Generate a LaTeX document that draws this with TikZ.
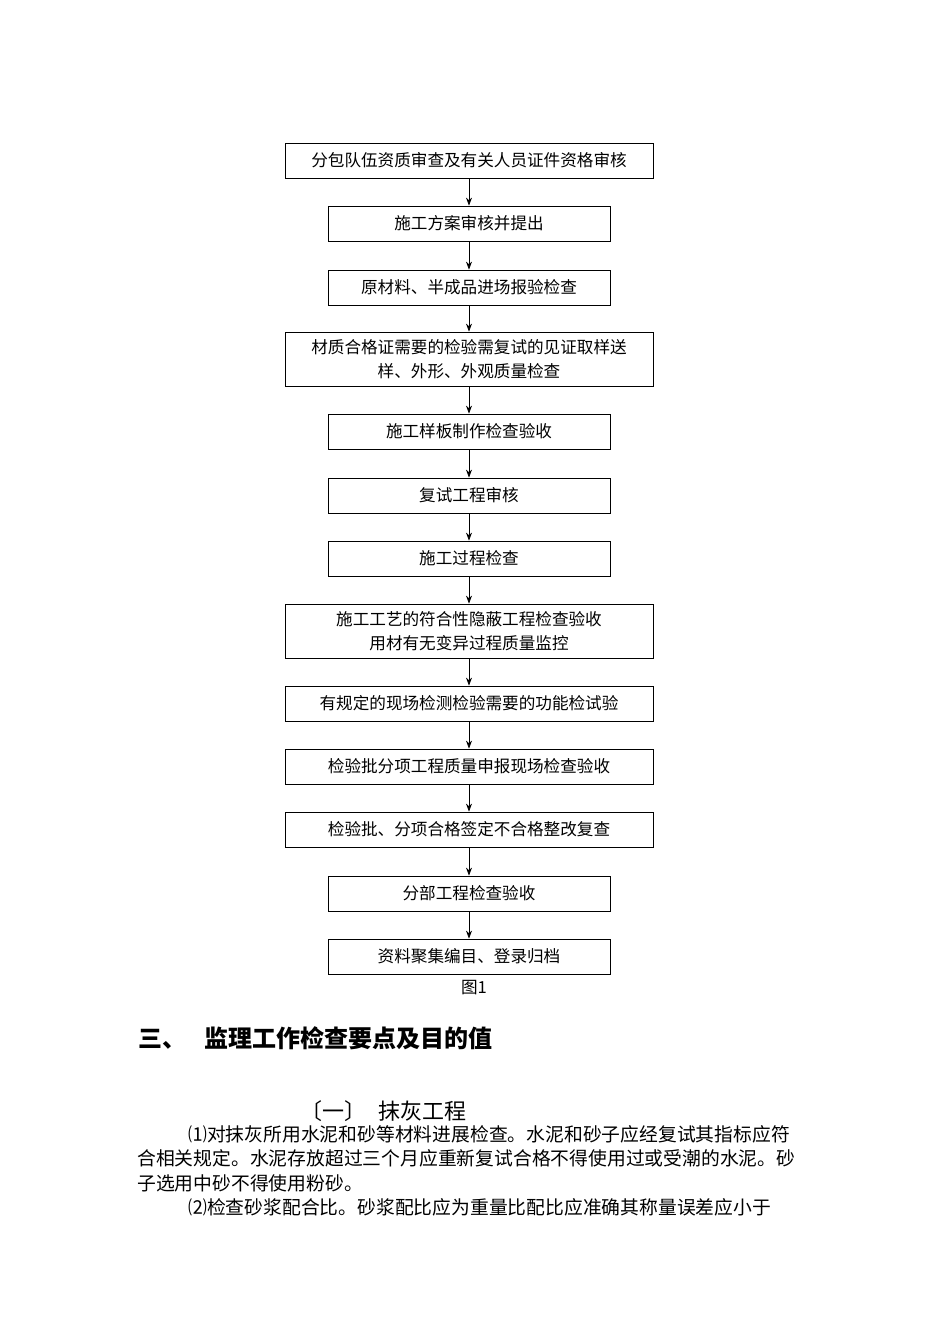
\documentclass[tikz,border=0pt]{standalone}
\usepackage{fontspec}
\setmainfont{Liberation Serif}
\newfontfamily\cjk{Noto Sans CJK SC}
\usetikzlibrary{arrows.meta}
\begin{document}
\begin{tikzpicture}[x=1pt,y=-1pt,
  bx/.style={draw,line width=0.8pt,minimum height=35pt,align=center,font=\cjk\fontsize{16.6}{24}\selectfont,inner sep=0pt},
  wide/.style={bx,minimum width=368pt},
  narrow/.style={bx,minimum width=282pt},
  arr/.style={-{Stealth[length=8pt,width=6pt]},line width=0.8pt}]
\useasboundingbox (0,0) rectangle (950,1344);
\node[wide] (n1) at (469,160.5) {分包队伍资质审查及有关人员证件资格审核};
\node[narrow] (n2) at (469,223.5) {施工方案审核并提出};
\node[narrow] (n3) at (469,287.5) {原材料、半成品进场报验检查};
\node[wide,minimum height=54pt] (n4) at (469,359) {材质合格证需要的检验需复试的见证取样送\\样、外形、外观质量检查};
\node[narrow] (n5) at (469,431.5) {施工样板制作检查验收};
\node[narrow] (n6) at (469,495.5) {复试工程审核};
\node[narrow] (n7) at (469,558.5) {施工过程检查};
\node[wide,minimum height=54pt] (n8) at (469,631) {施工工艺的符合性隐蔽工程检查验收\\用材有无变异过程质量监控};
\node[wide] (n9) at (469,703.5) {有规定的现场检测检验需要的功能检试验};
\node[wide] (n10) at (469,766.5) {检验批分项工程质量申报现场检查验收};
\node[wide] (n11) at (469,829.5) {检验批、分项合格签定不合格整改复查};
\node[narrow] (n12) at (469,893.5) {分部工程检查验收};
\node[narrow] (n13) at (469,956.5) {资料聚集编目、登录归档};
\foreach \a/\b in {n1/n2,n2/n3,n3/n4,n4/n5,n5/n6,n6/n7,n7/n8,n8/n9,n9/n10,n10/n11,n11/n12,n12/n13}
  \draw[arr] (\a) -- (\b);
\node[font=\cjk\fontsize{16.6}{18}\selectfont] (cap) at (474,988) {图1};
\node[anchor=west,font=\cjk\bfseries\fontsize{24}{26}\selectfont] (h1) at (135,1038) {三、\hspace{18pt}监理工作检查要点及目的值};
\node[anchor=west,font=\cjk\fontsize{22}{24}\selectfont] (h2) at (297,1111) {〔一〕\hspace{12pt}抹灰工程};
\node[anchor=north west,align=left,text width=700pt,font=\cjk\fontsize{18.8}{24.6}\selectfont,inner sep=0pt] (p) at (137,1125)
{\hspace{51pt}⑴对抹灰所用水泥和砂等材料进展检查。水泥和砂子应经复试其指标应符\\合相关规定。水泥存放超过三个月应重新复试合格不得使用过或受潮的水泥。砂\\子选用中砂不得使用粉砂。\\\hspace{51pt}⑵检查砂浆配合比。砂浆配比应为重量比配比应准确其称量误差应小于};
\end{tikzpicture}
\end{document}
